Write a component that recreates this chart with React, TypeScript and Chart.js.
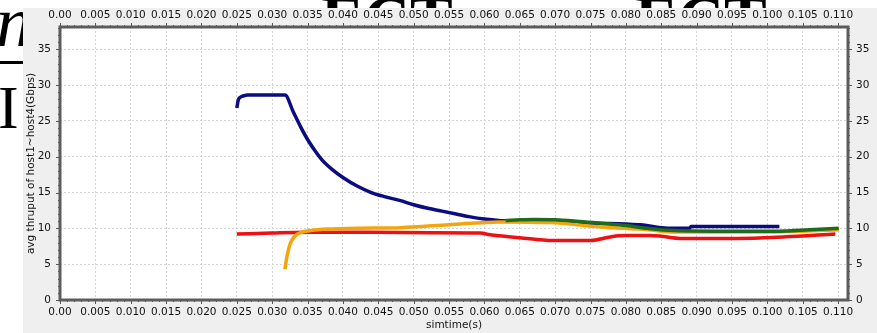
import React, { useEffect, useRef } from "react";
import { Chart, registerables } from "chart.js";

Chart.register(...registerables);

// ---- data ----
const blueT = [0.0250, 0.0252, 0.0255, 0.0260, 0.0265, 0.0280, 0.0300, 0.0318, 0.0330, 0.0340, 0.0350, 0.0360, 0.0370, 0.0385, 0.0400, 0.0420, 0.0440, 0.0460, 0.0480, 0.0500, 0.0520, 0.0540, 0.0560, 0.0580, 0.0600, 0.0620, 0.0650, 0.0700, 0.0760, 0.0800, 0.0821, 0.0850, 0.0867, 0.0890, 0.0892, 0.1017];
const blueV = [26.8, 27.9, 28.3, 28.5, 28.6, 28.6, 28.6, 28.6, 26.2, 24.2, 22.4, 20.9, 19.6, 18.2, 17.1, 15.9, 15.0, 14.4, 13.9, 13.3, 12.8, 12.4, 12.0, 11.6, 11.3, 11.1, 11.0, 10.9, 10.7, 10.6, 10.5, 10.1, 10.0, 10.0, 10.25, 10.25];

const greenT = [0.0630, 0.0650, 0.0670, 0.0700, 0.0730, 0.0765, 0.0800, 0.0831, 0.0867, 0.0950, 0.1017, 0.1060, 0.1101];
const greenV = [11.1, 11.2, 11.25, 11.2, 11.0, 10.7, 10.4, 10.0, 9.7, 9.6, 9.6, 9.8, 10.0];

const orangeT = [0.0318, 0.0320, 0.0322, 0.0326, 0.0332, 0.0340, 0.0355, 0.0380, 0.0420, 0.0481, 0.0550, 0.0622, 0.0693, 0.0764, 0.0831, 0.0867, 0.1000, 0.1050, 0.1101];
const orangeV = [4.3, 5.6, 6.6, 8.0, 8.9, 9.4, 9.7, 9.9, 10.0, 10.1, 10.5, 10.9, 10.8, 10.2, 9.8, 9.5, 9.5, 9.6, 9.8];

const redT = [0.0250, 0.0300, 0.0350, 0.0438, 0.0523, 0.0594, 0.0608, 0.0650, 0.0697, 0.0750, 0.0778, 0.0796, 0.0834, 0.0850, 0.0877, 0.0957, 0.1022, 0.1096];
const redV = [9.2, 9.35, 9.45, 9.45, 9.4, 9.35, 9.1, 8.7, 8.3, 8.3, 8.8, 9.0, 9.0, 8.9, 8.6, 8.6, 8.8, 9.2];

const xTicks = [0, 0.005, 0.01, 0.015, 0.02, 0.025, 0.03, 0.035, 0.04, 0.045, 0.05, 0.055, 0.06, 0.065, 0.07, 0.075, 0.08, 0.085, 0.09, 0.095, 0.1, 0.105, 0.11];
const xTickLabels = ["0.00", "0.005", "0.010", "0.015", "0.020", "0.025", "0.030", "0.035", "0.040", "0.045", "0.050", "0.055", "0.060", "0.065", "0.070", "0.075", "0.080", "0.085", "0.090", "0.095", "0.100", "0.105", "0.110"];
const yTicks = [0, 5, 10, 15, 20, 25, 30, 35];

const yTitle = "avg thruput of host1~host4(Gbps)";
const xTitle = "simtime(s)";

const X_MAX = 0.1114;
const Y_MAX = 38.1;

const pts = (t: number[], v: number[]) => t.map((x, i) => ({ x, y: v[i] }));

const FONT = "'DejaVu Sans', sans-serif";

const framePlugin = {
  id: "frame",
  beforeDraw(chart: any) {
    const { ctx, chartArea: a } = chart;
    ctx.save();
    ctx.fillStyle = "#ffffff";
    ctx.fillRect(a.left, a.top, a.right - a.left, a.bottom - a.top);
    ctx.restore();
  },
  afterDatasetsDraw(chart: any) {
    const { ctx, chartArea: a, scales } = chart;
    const xs = scales.x;
    const ys = scales.y;
    ctx.save();
    ctx.strokeStyle = "#555";
    ctx.lineWidth = 1;
    ctx.beginPath();
    for (let i = 0; i <= 110; i++) {
      const v = i / 1000;
      const px = Math.round(xs.getPixelForValue(v)) + 0.5;
      const len = i % 5 === 0 ? 4 : 2;
      ctx.moveTo(px, a.bottom);
      ctx.lineTo(px, a.bottom + len);
      ctx.moveTo(px, a.top);
      ctx.lineTo(px, a.top - len);
    }
    for (let i = 0; i <= 38; i++) {
      const py = Math.round(ys.getPixelForValue(i)) + 0.5;
      const len = i % 5 === 0 ? 4 : 2;
      ctx.moveTo(a.left, py);
      ctx.lineTo(a.left - len, py);
      ctx.moveTo(a.right, py);
      ctx.lineTo(a.right + len, py);
    }
    ctx.stroke();
    ctx.strokeStyle = "#5c5c5c";
    ctx.lineWidth = 3;
    ctx.strokeRect(a.left, a.top, a.right - a.left, a.bottom - a.top);
    ctx.restore();
  },
};

export default function App() {
  const ref = useRef<HTMLCanvasElement>(null);
  useEffect(() => {
    const mk = (label: string, t: number[], v: number[], color: string, order: number) => ({
      label,
      data: pts(t, v),
      borderColor: color,
      backgroundColor: color,
      borderWidth: 3.5,
      pointRadius: 0,
      cubicInterpolationMode: "monotone",
      order,
    });
    const tickFont = { family: FONT, size: 10.5 };
    const chart = new Chart(ref.current!, {
      type: "line",
      data: {
        datasets: [
          mk("host1", blueT, blueV, "#0b0b82", 4),
          mk("host4", redT, redV, "#ee1111", 3),
          mk("host3", orangeT, orangeV, "#f5a50c", 2),
          mk("host2", greenT, greenV, "#1d6b1d", 1),
        ],
      },
      plugins: [framePlugin],
      options: {
        animation: false,
        responsive: false,
        maintainAspectRatio: false,
        layout: { padding: 0 },
        plugins: { legend: { display: false }, tooltip: { enabled: false } },
        scales: {
          x: {
            type: "linear",
            position: "bottom",
            min: 0,
            max: X_MAX,
            afterBuildTicks: (s: any) => { s.ticks = xTicks.map((value) => ({ value })); },
            afterFit: (s: any) => { s.height = 33; },
            ticks: {
              callback: (_v: any, i: number) => xTickLabels[i],
              maxRotation: 0,
              autoSkip: false,
              font: tickFont,
              color: "#111",
              padding: 6,
            },
            grid: { color: "#d4d4d4", drawTicks: false },
            border: { display: false, dash: [2, 2] },
            title: { display: true, text: xTitle, font: tickFont, color: "#111", padding: { top: 0, bottom: 1 } },
          },
          x2: {
            type: "linear",
            position: "top",
            min: 0,
            max: X_MAX,
            afterBuildTicks: (s: any) => { s.ticks = xTicks.map((value) => ({ value })); },
            afterFit: (s: any) => { s.height = 19; },
            ticks: {
              callback: (_v: any, i: number) => xTickLabels[i],
              maxRotation: 0,
              autoSkip: false,
              font: tickFont,
              color: "#111",
              padding: 5,
            },
            grid: { drawOnChartArea: false, drawTicks: false },
            border: { display: false },
          },
          y: {
            type: "linear",
            position: "left",
            min: 0,
            max: Y_MAX,
            afterBuildTicks: (s: any) => { s.ticks = yTicks.map((value) => ({ value })); },
            afterFit: (s: any) => { s.width = 37; },
            ticks: { font: tickFont, color: "#111", padding: 9 },
            grid: { color: "#d4d4d4", drawTicks: false },
            border: { display: false, dash: [2, 2] },
            title: { display: true, text: yTitle, font: { family: FONT, size: 10.5 }, color: "#111", padding: { top: 2, bottom: 0 } },
          },
          y2: {
            type: "linear",
            position: "right",
            min: 0,
            max: Y_MAX,
            afterBuildTicks: (s: any) => { s.ticks = yTicks.map((value) => ({ value })); },
            afterFit: (s: any) => { s.width = 29; },
            ticks: { font: tickFont, color: "#111", padding: 8 },
            grid: { drawOnChartArea: false, drawTicks: false },
            border: { display: false },
          },
        },
      },
    } as any);
    return () => chart.destroy();
  }, []);

  const serif = "'Liberation Serif', serif";
  return (
    <div style={{ position: "absolute", left: 0, top: 0, width: 877, height: 333, overflow: "hidden", background: "#fff" }}>
      <div style={{ position: "absolute", left: -4, top: -14, fontFamily: serif, fontStyle: "italic", fontSize: 72, lineHeight: 1 }}>n</div>
      <div style={{ position: "absolute", left: 0, top: 61, width: 23, height: 3, background: "#000" }} />
      <div style={{ position: "absolute", left: -2, top: 76, fontFamily: serif, fontSize: 62, lineHeight: 1 }}>I</div>
      <div style={{ position: "absolute", left: 321, top: -13, fontFamily: serif, fontWeight: "bold", fontSize: 64, lineHeight: 1 }}>ECT</div>
      <div style={{ position: "absolute", left: 635, top: -13, fontFamily: serif, fontWeight: "bold", fontSize: 64, lineHeight: 1 }}>ECT</div>
      <div style={{ position: "absolute", left: 23, top: 8, width: 854, height: 325, background: "#efefef" }}>
        <canvas ref={ref} width={854} height={325} style={{ display: "block" }} />
      </div>
    </div>
  );
}
